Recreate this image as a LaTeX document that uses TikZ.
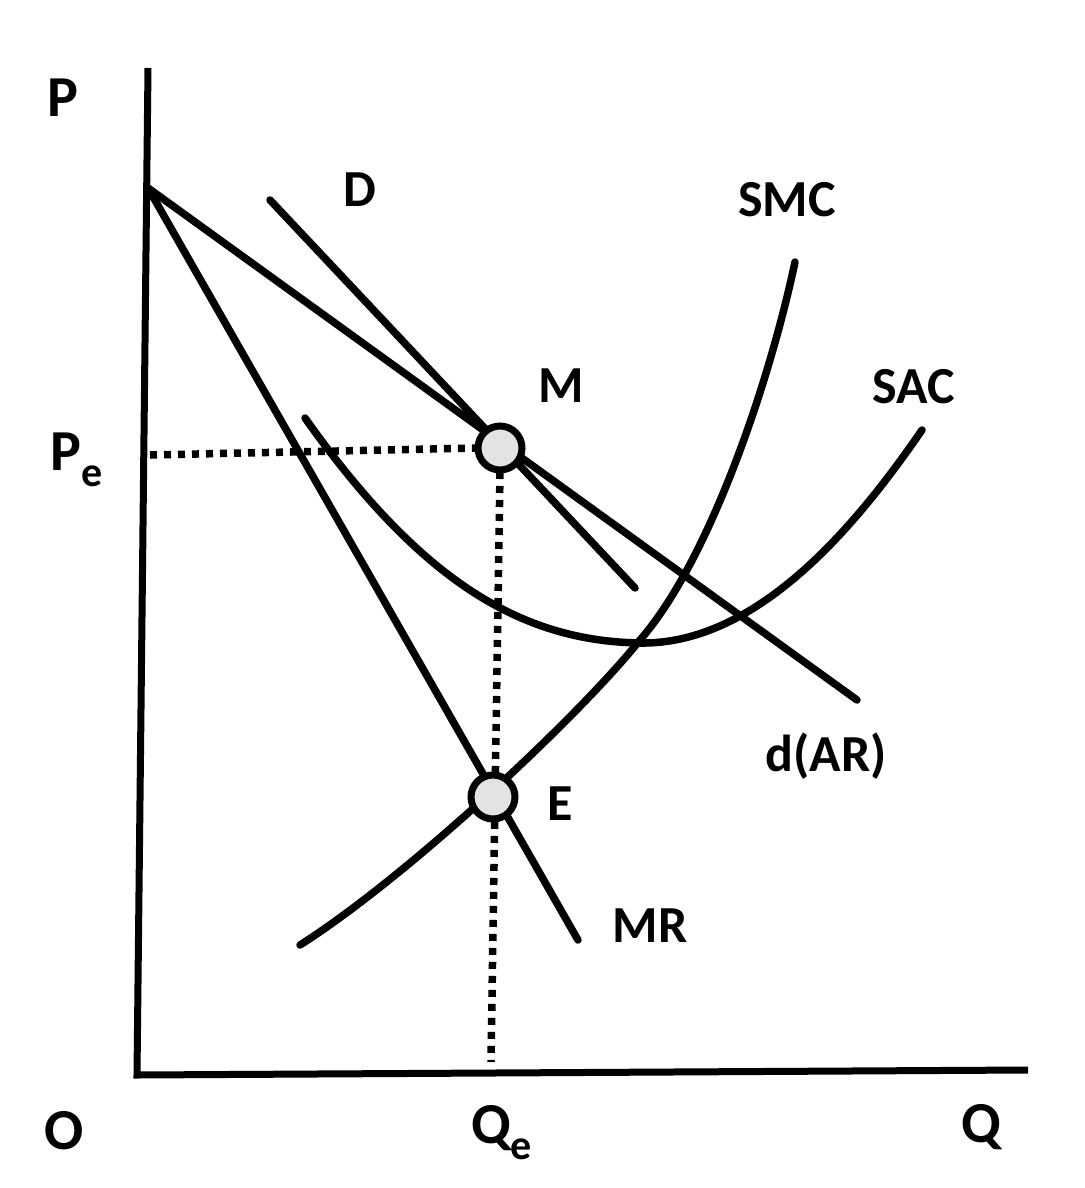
\documentclass[tikz,border=0pt]{standalone}
\usepackage{fontspec}
\setmainfont{Carlito}
\begin{document}
\begin{tikzpicture}[x=1pt,y=-1pt,
  curve/.style={line width=7.5pt, line cap=round, line join=round},
  dots/.style={line width=7.5pt, dash pattern=on 7pt off 7pt},
  lbl/.style={font=\fontsize{52}{55}\selectfont\bfseries, inner sep=0pt},
  axlbl/.style={font=\fontsize{58}{62}\selectfont\bfseries, inner sep=0pt},
  eqpt/.style={circle, draw=black, line width=7pt, fill=gray!22, minimum size=44pt, inner sep=0pt}]
\useasboundingbox (0,0) rectangle (1084,1188);
% coordinates
\coordinate (ytop) at (148,68);
\coordinate (orig) at (137,1075);
\coordinate (xend) at (1028,1070);
\coordinate (A) at (148,188);
\coordinate (dend) at (857,700);
\coordinate (Dtop) at (270,200);
\coordinate (Dend) at (635,588);
\coordinate (MRend) at (578,940);
\coordinate (Mpt) at (500,448);
\coordinate (Ept) at (493,797);
\coordinate (peL) at (150,455);
\coordinate (peR) at (478,448);
\coordinate (qeT) at (500,472);
\coordinate (qeB) at (491,1062);
\coordinate (sac0) at (305,418);
\coordinate (sacmin) at (640,643);
\coordinate (sac1) at (922,430);
\coordinate (smc0) at (300,945);
\coordinate (smcmid) at (640,640);
\coordinate (smc1) at (795,262);
% axes
\draw[line width=7pt] (ytop) -- (orig) -- (xend);
% dotted guides
\draw[dots] (peL) -- (peR);
\draw[dots] (qeT) -- (qeB);
% demand lines
\draw[curve] (A) -- (dend);
\draw[curve] (Dtop) -- (Dend);
\draw[curve] (A) -- (MRend);
% SAC
\draw[curve] (sac0) .. controls (420,580) and (520,641) .. (sacmin) .. controls (760,645) and (860,520) .. (sac1);
% SMC
\draw[curve] (smc0) .. controls (410,875) and (580,715) .. (smcmid) .. controls (710,560) and (770,380) .. (smc1);
% points
\node[eqpt] (M) at (Mpt) {};
\node[eqpt] (E) at (Ept) {};
% labels
\node[axlbl] (P) at (63,98) {P};
\node[axlbl] (O) at (64,1131) {O};
\node[axlbl] (Q) at (981,1127) {Q};
\node[axlbl, anchor=base west] (Pe) at (50,470) {P\raisebox{-0.28em}{\fontsize{42}{42}\selectfont e}};
\node[axlbl, anchor=base west] (Qe) at (471,1143) {Q\raisebox{-0.28em}{\fontsize{42}{42}\selectfont e}};
\node[lbl] (Dl) at (360,190) {D};
\node[lbl] (SMCl) at (787,200) {SMC};
\node[lbl] (Ml) at (561,386) {M};
\node[lbl] (SACl) at (914,387) {SAC};
\node[lbl] (dARl) at (826,756) {d(AR)};
\node[lbl] (El) at (560,804) {E};
\node[lbl] (MRl) at (650,926) {MR};
\end{tikzpicture}
\end{document}
